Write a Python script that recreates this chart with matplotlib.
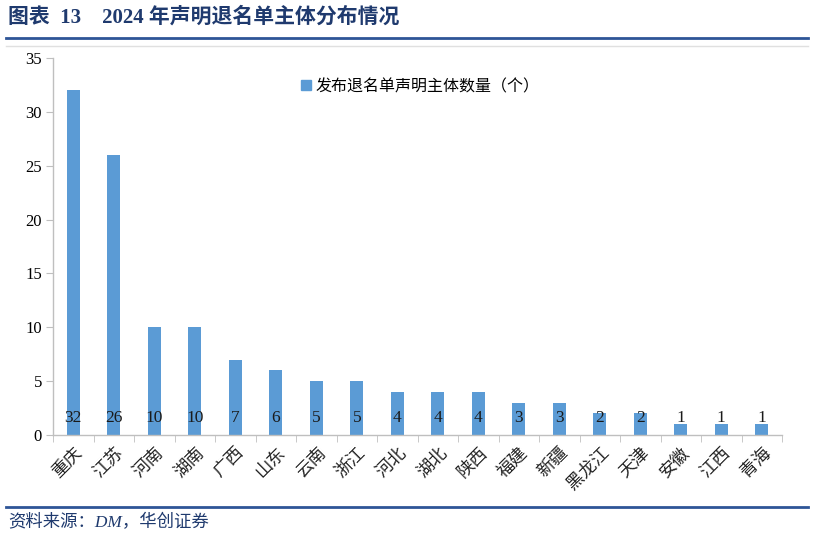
import numpy as np
import matplotlib.pyplot as plt
from matplotlib.lines import Line2D

plt.rcParams['font.family'] = ['Noto Sans CJK SC', 'DejaVu Sans']

provinces = ['重庆', '江苏', '河南', '湖南', '广西', '山东', '云南', '浙江', '河北',
             '湖北', '陕西', '福建', '新疆', '黑龙江', '天津', '安徽', '江西', '青海']
counts = [32, 26, 10, 10, 7, 6, 5, 5, 4, 4, 4, 3, 3, 2, 2, 1, 1, 1]
series_name = '发布退名单声明主体数量（个）'

bar_color = '#5B9BD5'
axis_color = '#BFBFBF'
title_color = '#1F3A6E'
line_color = '#2E5597'
serif = ['Liberation Serif', 'Noto Sans CJK SC']

fig = plt.figure(figsize=(8.14, 5.39), dpi=100)
ax = fig.add_axes([53 / 814, 1 - 435 / 539, (782 - 53) / 814, (435 - 58) / 539])

x = np.arange(len(provinces))
ax.bar(x, counts, width=0.33, color=bar_color, label=series_name, zorder=2)
for xi, v in zip(x, counts):
    ax.text(xi, 1.6, str(v), ha='center', va='center', fontsize=12.5,
            family=serif, color='#1a1a1a', zorder=3)

ax.set_xlim(-0.5, len(provinces) - 0.5)
ax.set_ylim(0, 35)
ax.set_yticks(range(0, 36, 5))
ax.set_yticklabels([str(t) for t in range(0, 36, 5)], family=serif, fontsize=12)

ax.set_xticks(x)
ax.set_xticklabels(provinces, rotation=45, ha='right', rotation_mode='anchor',
                   fontsize=12.5, color='#222222')
ax.set_xticks(np.arange(-0.5, len(provinces), 1), minor=True)
ax.tick_params(axis='x', which='major', length=0, pad=6)
ax.tick_params(axis='x', which='minor', length=5, color=axis_color, direction='out')
ax.tick_params(axis='y', length=5, color=axis_color, direction='out', pad=3)

for side in ['top', 'right']:
    ax.spines[side].set_visible(False)
for side in ['left', 'bottom']:
    ax.spines[side].set_color(axis_color)
    ax.spines[side].set_linewidth(1)

handle = Line2D([], [], marker='s', linestyle='none', markersize=7,
                markerfacecolor=bar_color, markeredgecolor=bar_color)
ax.legend([handle], [series_name], loc='upper left',
          bbox_to_anchor=((290 - 53) / (782 - 53), 1 - (70 - 58) / (435 - 58)),
          frameon=False, fontsize=11.5, handletextpad=0.1, borderpad=0,
          handlelength=1.0)

# header and footer
fig.text(8 / 814, 1 - 17 / 539, '图表  13    2024 年声明退名单主体分布情况', fontsize=15,
         fontweight='bold', color=title_color, va='center', ha='left',
         family=['Liberation Serif', 'Noto Sans CJK SC'])
fig.add_artist(Line2D([6 / 814, 808 / 814], [1 - 38 / 539] * 2, color=line_color, lw=2))
fig.add_artist(Line2D([6 / 814, 808 / 814], [1 - 46 / 539] * 2, color='#E0E0E0', lw=1))
fig.add_artist(Line2D([6 / 814, 808 / 814], [1 - 507 / 539] * 2, color=line_color, lw=2))
fig.text(8 / 814, 1 - 523 / 539, '资料来源：DM，华创证券', fontsize=12.5, style='italic',
         color=title_color, va='center', ha='left',
         family=['Liberation Serif', 'Noto Sans CJK SC'])

fig.savefig('out.png', dpi=100)
